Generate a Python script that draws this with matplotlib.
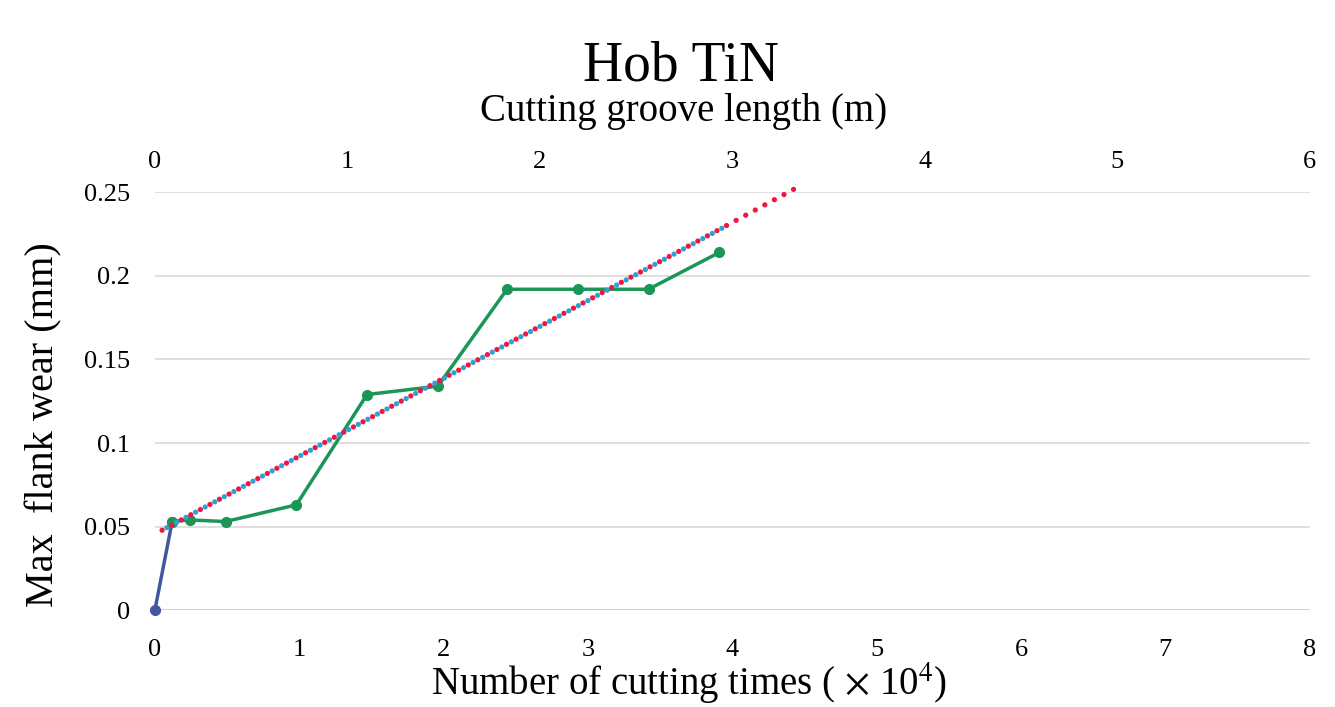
import matplotlib.pyplot as plt
import numpy as np

plt.rcParams['font.family'] = ['Liberation Serif', 'DejaVu Serif']
plt.rcParams['mathtext.fontset'] = 'stix'

# data
first_x = [0.0, 0.12]
first_y = [0.0, 0.053]
cuts = [0.12, 0.24, 0.49, 0.98, 1.47, 1.96, 2.44, 2.93, 3.42, 3.91]
wear = [0.053, 0.054, 0.053, 0.063, 0.129, 0.134, 0.192, 0.192, 0.192, 0.214]
trend_blue_x = [0.05, 3.95]
trend_blue_y = [0.0478, 0.2295]
trend_red_x = [0.05, 4.43]
trend_red_y = [0.0478, 0.2520]

x_ticks = [0, 1, 2, 3, 4, 5, 6, 7, 8]
y_ticks = [0, 0.05, 0.1, 0.15, 0.2, 0.25]
y_labels = ['0', '0.05', '0.1', '0.15', '0.2', '0.25']
top_ticks = [0, 1, 2, 3, 4, 5, 6]

fig = plt.figure(figsize=(13.35, 7.07), dpi=100)
ax = fig.add_axes([0.116, 0.137, 0.865, 0.591])

for yv in y_ticks:
    ax.axhline(yv, color='#d9d9d9' if yv > 0 else '#c8c8c8', lw=1.2, zorder=0)

ax.plot(first_x, first_y, color='#41589f', lw=2.5, marker='o', ms=7, zorder=3, clip_on=False)
ax.plot(cuts, wear, color='#1c9658', lw=2.5, marker='o', ms=7, zorder=3)

ax.plot(trend_blue_x, trend_blue_y, color='#2aa3d6', lw=3.8,
        linestyle=(1.03, (0.01, 2.05)), dash_capstyle='round', zorder=4, clip_on=False)
ax.plot(trend_red_x, trend_red_y, color='#f2163f', lw=3.8,
        linestyle=(0, (0.01, 2.05)), dash_capstyle='round', zorder=5, clip_on=False)

ax.set_xlim(0, 8)
ax.set_ylim(0, 0.25)
ax.set_xticks(x_ticks)
ax.set_yticks(y_ticks, y_labels)
ax.tick_params(length=0, labelsize=19, pad=21)
ax.tick_params(axis='y', pad=18)
for s in ax.spines.values():
    s.set_visible(False)

top = ax.secondary_xaxis('top', functions=(lambda v: v * 0.75, lambda v: v / 0.75))
top.set_xticks(top_ticks)
top.tick_params(length=0, labelsize=19, pad=14)
top.spines['top'].set_visible(False)

fig.text(0.510, 0.906, 'Hob TiN', ha='center', va='center', fontsize=40)
fig.text(0.512, 0.842, 'Cutting groove length (m)', ha='center', va='center', fontsize=28)
fig.text(0.516, 0.034, 'Number of cutting times ( $\\times$ 10$^{4}$)', ha='center', va='center', fontsize=28)
fig.text(0.033, 0.400, 'Max  flank wear (mm)', ha='center', va='center', rotation=90, fontsize=29)

fig.savefig('out.png', dpi=100, facecolor='white')
